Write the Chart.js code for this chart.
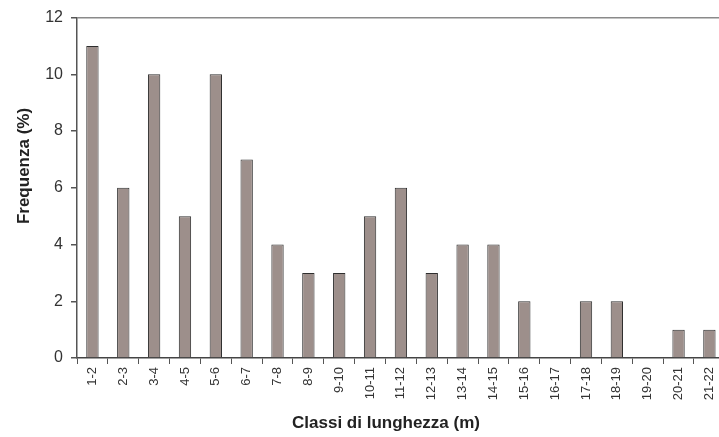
<!DOCTYPE html>
<html>
<head>
<meta charset="utf-8">
<script src="https://cdn.jsdelivr.net/npm/chart.js@4"></script>
<style>
  html, body { margin: 0; padding: 0; background: #fff; overflow: hidden; }
  #wrap { width: 728px; height: 437px; }
</style>
</head>
<body>
<div id="wrap"><canvas id="myChart" width="728" height="437"></canvas></div>
<script>
// data
var classes = ['1-2', '2-3', '3-4', '4-5', '5-6', '6-7', '7-8', '8-9', '9-10', '10-11', '11-12',
               '12-13', '13-14', '14-15', '15-16', '16-17', '17-18', '18-19', '19-20', '20-21', '21-22'];
var frequenza = [11, 6, 10, 5, 10, 7, 4, 3, 3, 5, 6, 3, 4, 4, 2, 0, 2, 2, 0, 1, 1];
var yTicks = [0, 2, 4, 6, 8, 10, 12];

var yTitle = 'Frequenza (%)';
var xTitle = 'Classi di lunghezza (m)';

// axis titles sit a bit off-centre in the original, so draw them by hand
var titlePlugin = {
    id: 'axisTitles',
    afterDraw: function(chart) {
        var c = chart.ctx;
        c.save();
        c.fillStyle = '#222';
        c.font = 'bold 17px "Liberation Sans", Arial, sans-serif';
        c.textAlign = 'center';
        c.textBaseline = 'middle';
        c.fillText(xTitle, 386, 423);
        c.translate(24, 166);
        c.rotate(-Math.PI / 2);
        c.fillText(yTitle, 0, 0);
        c.restore();
    }
};

var ctx = document.getElementById('myChart').getContext('2d');
var myChart = new Chart(ctx, {
    type: 'bar',
    data: {
        labels: classes,
        datasets: [{
            label: yTitle,
            data: frequenza,
            backgroundColor: '#9d8f8b',
            borderColor: '#2e2e2e',
            borderWidth: 1,
            barPercentage: 0.4,
            categoryPercentage: 1.0
        }]
    },
    options: {
        responsive: false,
        animation: false,
        layout: { padding: { top: 16, right: 0, bottom: 0, left: 0 } },
        plugins: {
            legend: { display: false },
            tooltip: { enabled: false }
        },
        scales: {
            x: {
                offset: true,
                grid: {
                    offset: true,
                    drawOnChartArea: false,
                    tickLength: 6,
                    color: '#555',
                    lineWidth: 1
                },
                border: { color: '#444', width: 1.5 },
                ticks: {
                    minRotation: 90,
                    maxRotation: 90,
                    autoSkip: false,
                    padding: 3,
                    color: '#333',
                    font: { family: '"Liberation Sans", Arial, sans-serif', size: 13 }
                },
                afterFit: function(scale) { scale.height = 79; }
            },
            y: {
                min: 0,
                max: 12,
                afterBuildTicks: function(scale) {
                    scale.ticks = yTicks.map(function(v) { return { value: v }; });
                },
                grid: {
                    tickLength: 6,
                    lineWidth: 1.5,
                    color: function(c) { return c.tick && c.tick.value === 12 ? '#8a8a8a' : 'rgba(0,0,0,0)'; },
                    tickColor: '#555'
                },
                border: { color: '#555', width: 1.5 },
                ticks: {
                    padding: 8,
                    color: '#333',
                    font: { family: '"Liberation Sans", Arial, sans-serif', size: 16 }
                },
                afterFit: function(scale) { scale.width = 77; }
            }
        }
    },
    plugins: [titlePlugin]
});
</script>
</body>
</html>
